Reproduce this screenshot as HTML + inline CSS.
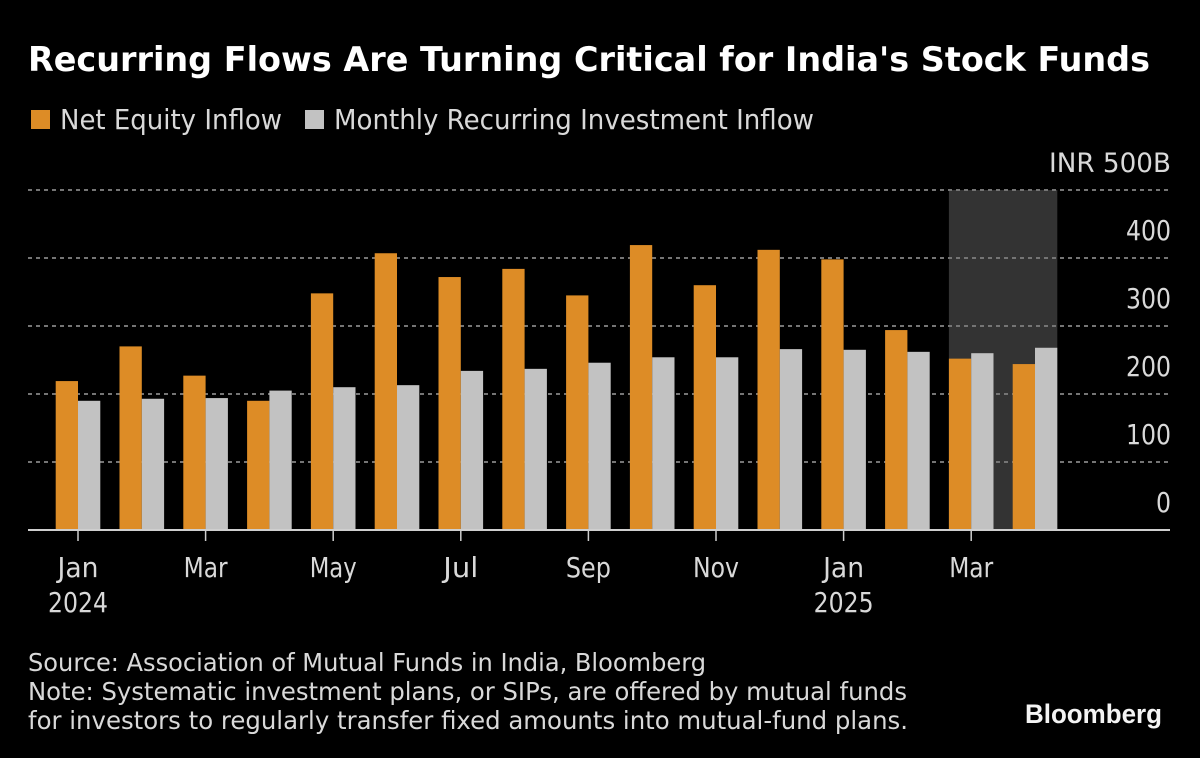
<!DOCTYPE html>
<html lang="en">
<head>
<meta charset="utf-8">
<title>Recurring Flows Are Turning Critical for India's Stock Funds</title>
<style>
html,body{margin:0;padding:0;background:#000;width:1200px;height:758px;overflow:hidden}
svg{display:block}
text{font-family:"DejaVu Sans","Liberation Sans",sans-serif;fill:#d9d9d9}
</style>
</head>
<body>
<svg id="chart" xmlns="http://www.w3.org/2000/svg" width="1200" height="758" viewBox="0 0 1200 758">
<rect x="0" y="0" width="1200" height="758" fill="#000"/>
<text x="28" y="71" font-size="33.5" font-weight="700" style="fill:#fff" textLength="1122" lengthAdjust="spacingAndGlyphs">Recurring Flows Are Turning Critical for India's Stock Funds</text>
<rect x="31" y="110" width="19" height="19" fill="#dd8c26"/>
<text x="60" y="129" font-size="27.5" textLength="222" lengthAdjust="spacingAndGlyphs">Net Equity Inflow</text>
<rect x="305" y="110" width="19" height="19" fill="#c2c2c2"/>
<text x="334" y="129" font-size="27.5" textLength="480" lengthAdjust="spacingAndGlyphs">Monthly Recurring Investment Inflow</text>
<g id="plot"></g>
<text x="28" y="671" font-size="25" textLength="678" lengthAdjust="spacingAndGlyphs">Source: Association of Mutual Funds in India, Bloomberg</text>
<text x="28" y="700" font-size="25" textLength="879" lengthAdjust="spacingAndGlyphs">Note: Systematic investment plans, or SIPs, are offered by mutual funds</text>
<text x="28" y="729" font-size="25" textLength="880" lengthAdjust="spacingAndGlyphs">for investors to regularly transfer fixed amounts into mutual-fund plans.</text>
<text x="1025" y="723" font-size="26.5" font-weight="700" style="font-family:'Liberation Sans',sans-serif;fill:#f4f4f4" textLength="137" lengthAdjust="spacingAndGlyphs">Bloomberg</text>
</svg>
<script>
const months = ["Jan 2024","Feb 2024","Mar 2024","Apr 2024","May 2024","Jun 2024","Jul 2024","Aug 2024","Sep 2024","Oct 2024","Nov 2024","Dec 2024","Jan 2025","Feb 2025","Mar 2025","Apr 2025"];
const netEquityInflow = [219,270,227,190,348,407,372,384,345,419,360,412,398,294,252,244];
const recurringInflow = [190,193,194,205,210,213,234,237,246,254,254,266,265,262,260,268];
const yTicks = [0,100,200,300,400];
const yTopTick = 500;
const yTopLabel = "INR 500B";
const xTickMonths = ["Jan 2024","Mar 2024","May 2024","Jul 2024","Sep 2024","Nov 2024","Jan 2025","Mar 2025"];
const xTickLabels = ["Jan","Mar","May","Jul","Sep","Nov","Jan","Mar"];
const xTickYears = ["2024","","","","","","2025",""];
const highlightMonths = ["Mar 2025","Apr 2025"];

const NS = "http://www.w3.org/2000/svg";
const plot = document.getElementById("plot");
const yScale = v => 530 - v * 0.68;
const xCenter = m => 78 + months.indexOf(m) * 63.8;
const barW = 22.3;
const labelWidth = {Jan: 41, Mar: 44, May: 47, Jul: 35, Sep: 45, Nov: 46};
function mk(tag, attrs, parent) {
  const el = document.createElementNS(NS, tag);
  for (const k in attrs) el.setAttribute(k, attrs[k]);
  parent.appendChild(el);
  return el;
}

const hl = mk("rect", {
  x: xCenter(highlightMonths[0]) - barW,
  y: yScale(yTopTick),
  width: xCenter(highlightMonths[1]) - xCenter(highlightMonths[0]) + 2 * barW,
  height: yScale(0) - yScale(yTopTick),
  fill: "#333333"
}, plot);



yTicks.concat([yTopTick]).forEach(v => {
  if (v !== 0) {
    const g = mk("line", {x1: 28, x2: 1170, y1: yScale(v), y2: yScale(v), stroke: "#757575", "stroke-width": 2, "stroke-dasharray": "4 4"}, plot);
    
    
  }
});

months.forEach((m, i) => {
  const a = mk("rect", {x: xCenter(m) - barW, y: yScale(netEquityInflow[i]), width: barW, height: yScale(0) - yScale(netEquityInflow[i]), fill: "#dd8c26"}, plot);
  
  
  const b = mk("rect", {x: xCenter(m), y: yScale(recurringInflow[i]), width: barW, height: yScale(0) - yScale(recurringInflow[i]), fill: "#c2c2c2"}, plot);
  
  
});

const axis = mk("line", {x1: 28, x2: 1170, y1: yScale(0), y2: yScale(0), stroke: "#cfcfcf", "stroke-width": 2}, plot);



yTicks.forEach(v => {
  const t = mk("text", {x: 1171, y: yScale(v) - 18, "font-size": 27.5, "text-anchor": "end", textLength: String(v).length * 15, lengthAdjust: "spacingAndGlyphs"}, plot);
  t.textContent = String(v);
  
  
});
const topLabel = mk("text", {x: 1171, y: yScale(yTopTick) - 18, "font-size": 27, "text-anchor": "end", textLength: 122, lengthAdjust: "spacingAndGlyphs"}, plot);
topLabel.textContent = yTopLabel;



xTickMonths.forEach((m, i) => {
  const x = xCenter(m);
  const tk = mk("line", {x1: x, x2: x, y1: 530, y2: 541, stroke: "#cfcfcf", "stroke-width": 1.5}, plot);
  
  
  const t = mk("text", {x: x, y: 577, "font-size": 27.5, "text-anchor": "middle", textLength: labelWidth[xTickLabels[i]], lengthAdjust: "spacingAndGlyphs"}, plot);
  t.textContent = xTickLabels[i];
  
  
  if (xTickYears[i]) {
    const y = mk("text", {x: x, y: 612, "font-size": 27.5, "text-anchor": "middle", textLength: 60, lengthAdjust: "spacingAndGlyphs"}, plot);
    y.textContent = xTickYears[i];
    
    
  }
});
</script>
</body>
</html>
